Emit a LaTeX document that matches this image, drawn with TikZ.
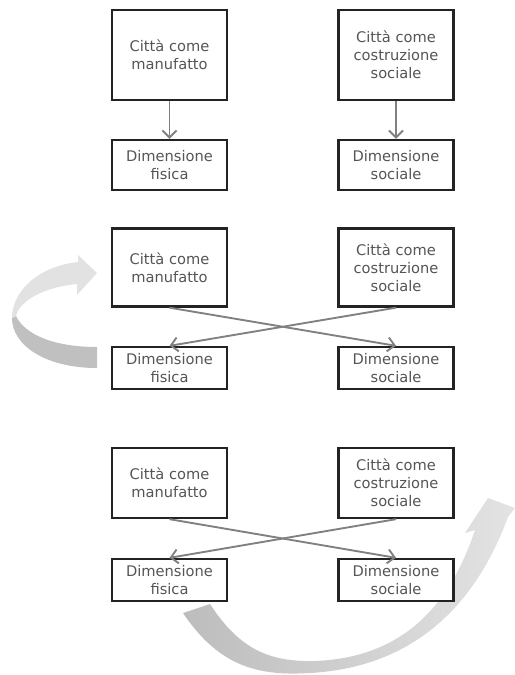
\documentclass[tikz,border=0pt]{standalone}
\usepackage{fontspec}
\setmainfont{DejaVu Sans}
\usetikzlibrary{arrows.meta}
\definecolor{boxline} {RGB}{35, 35, 35}
\definecolor{boxtext} {RGB}{85, 85, 85}
\definecolor{linkgray}{RGB}{128,128,128}
\definecolor{bandlight}{RGB}{226,226,226}
\definecolor{banddark} {RGB}{192,192,192}
\newcommand\boxfont{\fontsize{12.5}{15.4}\selectfont}
\tikzset{
  cbox/.style={draw=boxline,line width=2pt,fill=white,
    minimum width=3.45cm,inner sep=0pt,
    font=\boxfont,text=boxtext,align=center},
  cboxtall/.style={cbox,minimum height=2.7cm},
  cboxmid/.style={cbox,minimum height=2.34cm},
  cboxlow/.style={cbox,minimum height=2.1cm},
  dbox/.style={cbox,minimum height=1.5cm},
  dboxflat/.style={cbox,minimum height=1.26cm},
  arr/.style={-{Straight Barb[length=6pt,width=12pt]},line width=1.6pt,color=linkgray},
}

\begin{document}
\begin{tikzpicture}[x=0.03cm,y=-0.03cm]
  \useasboundingbox (0,0) rectangle (515,675);

  \node[cboxtall](cm1) at (169.5,55) {Città come\\manufatto};
  \node[cboxtall](cs1) at (396,55)   {Città come\\costruzione\\sociale};
  \node[dbox](df1) at (169.5,165) {Dimensione\\fisica};
  \node[dbox](ds1) at (396,165)   {Dimensione\\sociale};

  \draw[arr](cm1)--(df1);
  \draw[arr](cs1)--(ds1);

  \fill[banddark] (97,368) .. controls (45,368) and (12,345) .. (12,318)
    -- (16,316) .. controls (25,335) and (55,347) .. (97,347) -- cycle;
  \fill[bandlight] (12,318) .. controls (12,290) and (40,266) .. (78,262)
    -- (78,255) -- (97,273) -- (77,295) -- (77,284)
    .. controls (45,287) and (20,300) .. (16,316) -- cycle;

  \node[cboxmid](cm2) at (169.5,267.5) {Città come\\manufatto};
  \node[cboxmid](cs2) at (396,267.5)   {Città come\\costruzione\\sociale};
  \node[dboxflat](df2) at (169.5,368) {Dimensione\\fisica};
  \node[dboxflat](ds2) at (396,368)   {Dimensione\\sociale};

  \draw[arr](cm2.south)--(ds2.north);
  \draw[arr](cs2.south)--(df2.north);

  \shade[left color=black!26,right color=black!11]
    (183,613) .. controls (220,668) and (260,676) .. (310,673)
    .. controls (400,668) and (470,620) .. (508,517)
    -- (515,508) -- (488,498) -- (465,533) -- (475,530)
    .. controls (445,620) and (390,658) .. (315,661)
    .. controls (270,662) and (240,650) .. (210,604) -- cycle;

  \node[cboxlow](cm3) at (169.5,483) {Città come\\manufatto};
  \node[cboxlow](cs3) at (396,483)   {Città come\\costruzione\\sociale};
  \node[dboxflat](df3) at (169.5,580) {Dimensione\\fisica};
  \node[dboxflat](ds3) at (396,580)   {Dimensione\\sociale};

  \draw[arr](cm3.south)--(ds3.north);
  \draw[arr](cs3.south)--(df3.north);
\end{tikzpicture}
\end{document}
